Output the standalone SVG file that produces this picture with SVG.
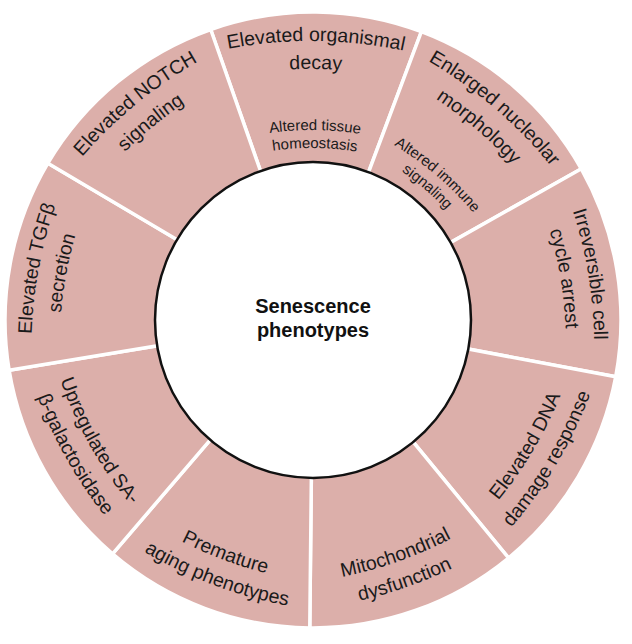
<svg xmlns="http://www.w3.org/2000/svg" xmlns:xlink="http://www.w3.org/1999/xlink" width="632" height="644" viewBox="0 0 632 644">
<style>
.seg{fill:#dcafaa;stroke:#ffffff;stroke-width:3.5;stroke-linejoin:miter}
.lbl{font-family:"Liberation Sans",Arial,sans-serif;font-size:19.5px;fill:#1a1a1a;text-anchor:middle}
.sm{font-family:"Liberation Sans",Arial,sans-serif;font-size:15px;fill:#1a1a1a;text-anchor:middle}
.ctr{font-family:"Liberation Sans",Arial,sans-serif;font-size:20px;font-weight:bold;fill:#111;text-anchor:middle}
</style>
<defs>
<path id="cwA" d="M-150,-253.04 A446.4,446.4 0 0 1 150,-253.04"/>
<path id="cwB" d="M-150,-221.93 A401.6,401.6 0 0 1 150,-221.93"/>
<path id="cwS1" d="M-150,-150.42 A304,304 0 0 1 150,-150.42"/>
<path id="cwS2" d="M-150,-127.53 A275.2,275.2 0 0 1 150,-127.53"/>
<path id="ccwA" d="M-150,227.55 A409.6,409.6 0 0 0 150,227.55"/>
<path id="ccwB" d="M-150,257.43 A452.8,452.8 0 0 0 150,257.43"/>
</defs>

<g id="seg-organismal-decay">
<path class="seg" d="M210.69,29.49 A308,308 0 0 1 421.37,31.69 L365.78,179.59 A150,150 0 0 0 263.18,178.52 Z"/>
<text class="lbl" transform="translate(313 320) rotate(0.6)"><textPath href="#cwA" startOffset="50%">Elevated organismal</textPath></text>
<text class="lbl" transform="translate(313 320) rotate(0.6)"><textPath href="#cwB" startOffset="50%">decay</textPath></text>
<text class="sm" transform="translate(313 320) rotate(0.6)"><textPath href="#cwS1" startOffset="50%">Altered tissue</textPath></text>
<text class="sm" transform="translate(313 320) rotate(0.6)"><textPath href="#cwS2" startOffset="50%">homeostasis</textPath></text>
</g>

<g id="seg-nucleolar">
<path class="seg" d="M421.37,31.69 A308,308 0 0 1 581.33,168.80 L443.68,246.36 A150,150 0 0 0 365.78,179.59 Z"/>
<text class="lbl" transform="translate(313 320) rotate(40.6)"><textPath href="#cwA" startOffset="50%">Enlarged nucleolar</textPath></text>
<text class="lbl" transform="translate(313 320) rotate(40.6)"><textPath href="#cwB" startOffset="50%">morphology</textPath></text>
<text class="sm" transform="translate(313 320) rotate(40.6)"><textPath href="#cwS1" startOffset="50%">Altered immune</textPath></text>
<text class="sm" transform="translate(313 320) rotate(40.6)"><textPath href="#cwS2" startOffset="50%">signaling</textPath></text>
</g>

<g id="seg-cell-cycle">
<path class="seg" d="M581.33,168.80 A308,308 0 0 1 615.75,376.66 L460.44,347.59 A150,150 0 0 0 443.68,246.36 Z"/>
<text class="lbl" transform="translate(313 320) rotate(80.6)"><textPath href="#cwA" startOffset="50%">Irreversible cell</textPath></text>
<text class="lbl" transform="translate(313 320) rotate(80.6)"><textPath href="#cwB" startOffset="50%">cycle arrest</textPath></text>
</g>

<g id="seg-dna-damage">
<path class="seg" d="M615.75,376.66 A308,308 0 0 1 508.52,557.98 L408.22,435.90 A150,150 0 0 0 460.44,347.59 Z"/>
<text class="lbl" transform="translate(313 320) rotate(-59.4)"><textPath href="#ccwA" startOffset="50%">Elevated DNA</textPath></text>
<text class="lbl" transform="translate(313 320) rotate(-59.4)"><textPath href="#ccwB" startOffset="50%">damage response</textPath></text>
</g>

<g id="seg-mitochondrial">
<path class="seg" d="M508.52,557.98 A308,308 0 0 1 309.77,627.98 L311.43,469.99 A150,150 0 0 0 408.22,435.90 Z"/>
<text class="lbl" transform="translate(313 320) rotate(-19.4)"><textPath href="#ccwA" startOffset="50%">Mitochondrial</textPath></text>
<text class="lbl" transform="translate(313 320) rotate(-19.4)"><textPath href="#ccwB" startOffset="50%">dysfunction</textPath></text>
</g>

<g id="seg-premature-aging">
<path class="seg" d="M309.77,627.98 A308,308 0 0 1 112.56,553.86 L215.38,433.89 A150,150 0 0 0 311.43,469.99 Z"/>
<text class="lbl" transform="translate(313 320) rotate(20.6)"><textPath href="#ccwA" startOffset="50%">Premature</textPath></text>
<text class="lbl" transform="translate(313 320) rotate(20.6)"><textPath href="#ccwB" startOffset="50%">aging phenotypes</textPath></text>
</g>

<g id="seg-sa-gal">
<path class="seg" d="M112.56,553.86 A308,308 0 0 1 9.14,370.31 L165.01,344.50 A150,150 0 0 0 215.38,433.89 Z"/>
<text class="lbl" transform="translate(313 320) rotate(60.6)"><textPath href="#ccwA" startOffset="50%">Upregulated SA-</textPath></text>
<text class="lbl" transform="translate(313 320) rotate(60.6)"><textPath href="#ccwB" startOffset="50%">β-galactosidase</textPath></text>
</g>

<g id="seg-tgfb">
<path class="seg" d="M9.14,370.31 A308,308 0 0 1 47.89,163.22 L183.89,243.64 A150,150 0 0 0 165.01,344.50 Z"/>
<text class="lbl" transform="translate(313 320) rotate(-79.4)"><textPath href="#cwA" startOffset="50%">Elevated TGFβ</textPath></text>
<text class="lbl" transform="translate(313 320) rotate(-79.4)"><textPath href="#cwB" startOffset="50%">secretion</textPath></text>
</g>

<g id="seg-notch">
<path class="seg" d="M47.89,163.22 A308,308 0 0 1 210.69,29.49 L263.18,178.52 A150,150 0 0 0 183.89,243.64 Z"/>
<text class="lbl" transform="translate(313 320) rotate(-39.4)"><textPath href="#cwA" startOffset="50%">Elevated NOTCH</textPath></text>
<text class="lbl" transform="translate(313 320) rotate(-39.4)"><textPath href="#cwB" startOffset="50%">signaling</textPath></text>
</g>

<g id="center">
<circle cx="313" cy="320" r="158" fill="#ffffff" stroke="#111111" stroke-width="2.5"/>
<text class="ctr" x="313" y="313">Senescence</text>
<text class="ctr" x="313" y="337">phenotypes</text>
</g>
</svg>
